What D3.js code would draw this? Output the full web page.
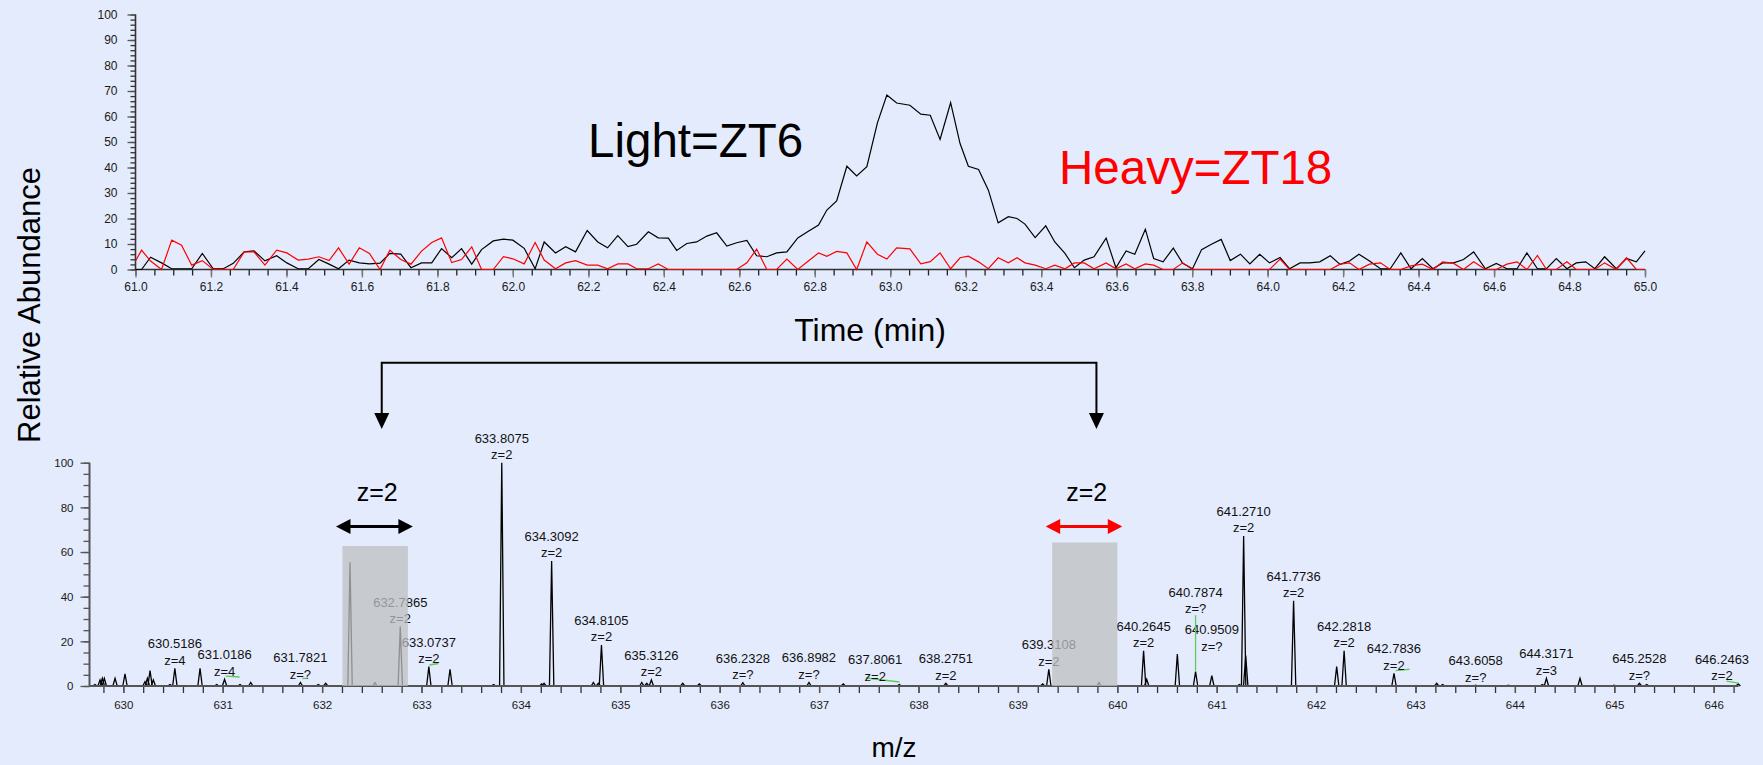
<!DOCTYPE html>
<html>
<head>
<meta charset="utf-8">
<script src="https://cdn.jsdelivr.net/npm/d3@7"></script>
<style>
  body { margin: 0; background: #e4ebfc; }
  svg { display: block; font-family: 'Liberation Sans', Arial, sans-serif; }
</style>
</head>
<body>
<svg id="chart" width="1763" height="765"></svg>
<script>
// chromatogram (XIC) scans
const scanTimes = [
  61.000, 61.016, 61.040, 61.069, 61.096, 61.122, 61.149, 61.177, 61.206, 61.233, 61.259, 61.288, 61.314,
  61.343, 61.374, 61.401, 61.431, 61.458, 61.486, 61.513, 61.538, 61.566, 61.593, 61.620, 61.648, 61.674,
  61.703, 61.730, 61.758, 61.785, 61.811, 61.838, 61.864, 61.891, 61.917, 61.948, 61.975,
  62.000, 62.030, 62.059, 62.083, 62.113, 62.140, 62.166, 62.197, 62.225, 62.251, 62.278, 62.305, 62.328,
  62.359, 62.385, 62.412, 62.434, 62.461, 62.487, 62.514, 62.540, 62.567, 62.593, 62.620, 62.646, 62.673,
  62.699, 62.726, 62.755, 62.783, 62.810, 62.832, 62.858, 62.885, 62.911, 62.938, 62.966,
  62.991, 63.017, 63.052, 63.081, 63.106, 63.132, 63.160, 63.185, 63.207, 63.234, 63.260, 63.286, 63.313,
  63.336, 63.357, 63.384, 63.412, 63.436, 63.463, 63.488, 63.514, 63.540, 63.572, 63.598, 63.625, 63.648,
  63.676, 63.698, 63.723, 63.750, 63.775, 63.801, 63.825, 63.851, 63.877, 63.901, 63.928, 63.953,
  63.979, 64.005, 64.033, 64.058, 64.086, 64.111, 64.138, 64.166, 64.192, 64.217, 64.242, 64.270, 64.299,
  64.325, 64.353, 64.380, 64.410, 64.438, 64.464, 64.493, 64.519, 64.546, 64.577, 64.606, 64.634, 64.661,
  64.687, 64.715, 64.739, 64.765, 64.793, 64.818, 64.843, 64.867, 64.893, 64.924, 64.951, 64.977, 65.000,
];
const lightAbund = [
  0, 0, 4.8, 2.6, 0.3, 0.3, 0.3, 6.3, 0.3, 0.3, 2.4, 6.9, 7.3, 3.4, 5.4, 2.6, 0.3, 0.3, 3.9, 2.1, 0.3,
  3.7, 2.6, 2.2, 2.5, 6.3, 6.0, 0.7, 2.6, 2.6, 8.2, 4.6, 8.2, 2.1, 7.8, 11.2, 11.9,
  11.5, 8.3, 0.3, 10.8, 6.5, 8.9, 6.9, 15.3, 10.8, 8.5, 13.3, 9.0, 9.9, 14.8, 12.4, 12.3, 7.5, 10.2, 10.8,
  13.1, 14.4, 9.2, 10.5, 11.4, 5.4, 5.0, 6.5, 6.9, 12.4, 15.0, 17.4, 23.3, 26.9, 40.5, 36.7, 40.3, 57.5,
  68.4, 65.3, 64.4, 60.9, 60.5, 51.0, 65.4, 49.4, 40.5, 39.2, 31.1, 18.3, 20.7, 20.0, 17.8, 12.5, 17.1,
  10.8, 6.3, 0.7, 3.7, 5.0, 12.3, 0.7, 7.3, 6.0, 15.8, 4.3, 3.0, 8.4, 2.4, 0.3, 7.8, 9.9, 11.8, 3.5, 6.0, 2.2,
  6.0, 2.6, 4.7, 0.3, 2.6, 2.6, 3.0, 5.4, 2.0, 3.3, 6.0, 3.3, 0.3, 0.3, 6.5, 0.3, 4.3, 0.3, 2.6, 2.6, 3.9,
  6.9, 0.3, 2.4, 0.3, 0.3, 6.5, 0.3, 0.3, 4.3, 0.3, 2.6, 3.0, 0.3, 5.0, 0.3, 4.3, 3.0, 7.3,
];
const heavyAbund = [
  3.3, 7.6, 3.3, 0, 11.5, 9.5, 1.7, 3.5, 0, 0, 0, 6.9, 6.9, 1.7, 7.6, 6.5, 3.7, 4.1, 5.0, 3.5, 8.5,
  2.1, 8.5, 6.3, 0, 7.6, 3.9, 2.1, 7.2, 10.6, 12.4, 2.7, 3.9, 8.9, 0, 0, 5.0,
  4.2, 2.2, 10.6, 3.7, 0.3, 2.6, 3.5, 1.7, 1.7, 0.3, 2.2, 2.2, 0.3, 0.3, 2.2, 0, 0, 0, 0, 0, 0,
  0, 0, 2.6, 8.0, 0, 0, 4.1, 0, 3.3, 6.5, 5.2, 7.1, 6.5, 0, 10.8, 6.0,
  4.1, 8.5, 8.1, 2.2, 3.1, 6.5, 0.3, 4.6, 5.2, 3.0, 0.3, 4.6, 2.6, 4.6, 2.6, 1.7, 0.3, 1.7, 0.3,
  2.6, 2.6, 0.3, 2.6, 0.3, 2.2, 0.3, 2.2, 1.7, 0, 0, 2.6, 0, 0, 0, 0, 0, 0, 0,
  0, 0, 4.1, 0, 0, 0, 0, 0, 2.1, 2.6, 0, 2.1, 2.6, 0, 0, 1.4, 2.1, 0, 3.0, 2.4, 0,
  3.0, 0, 0, 2.1, 3.0, 0, 5.5, 0, 0, 3.0, 0, 0, 0, 2.6, 0, 4.6, 0, 0,
];
const timeTicks = [61.0, 61.2, 61.4, 61.6, 61.8, 62.0, 62.2, 62.4, 62.6, 62.8, 63.0, 63.2, 63.4, 63.6, 63.8, 64.0, 64.2, 64.4, 64.6, 64.8, 65.0];
const abundTicks = [0, 10, 20, 30, 40, 50, 60, 70, 80, 90, 100];

// MS1 spectrum
const specMz = [
  629.715, 629.766, 629.789, 629.809, 629.917, 630.017, 630.218, 630.242, 630.269, 630.302, 630.470,
  630.5186, 630.772, 630.940, 631.0186, 631.174, 631.282, 631.7821, 631.962, 632.036, 632.281, 632.532,
  632.7865, 633.0737, 633.287, 633.725, 633.8075, 634.209, 634.233, 634.3092, 634.729, 634.779, 634.8105,
  635.216, 635.266, 635.3126, 635.628, 635.795, 636.2328, 636.8982, 637.243, 637.8061, 638.2751, 639.249,
  639.3108, 639.816, 640.2645, 640.296, 640.604, 640.7874, 640.9509, 641.228, 641.2710, 641.292, 641.7736,
  642.207, 642.2818, 642.7836, 643.213, 643.273, 643.6058, 643.934, 644.276, 644.3171, 644.655, 644.997,
  645.2528, 645.326, 646.2463,
];
const specInt = [
  0.7, 2.7, 3.4, 3.4, 3.4, 5.4, 1.9, 3.4, 6.9, 2.7, 0.7,
  7.9, 7.9, 0.7, 3.0, 0.7, 1.6, 1.6, 0.7, 1.2, 55.4, 1.5,
  26.6, 8.7, 7.5, 0.7, 100, 0.9, 1.2, 56.0, 1.6, 1.2, 18.4,
  1.6, 1.2, 2.7, 1.2, 0.9, 1.5, 1.6, 0.9, 0.7, 1.2, 0.9,
  7.5, 1.6, 15.8, 3.0, 14.3, 6.4, 4.6, 0.7, 67.2, 13.6, 38.2,
  8.7, 15.8, 5.7, 1.2, 0.7, 0.4, 0.4, 0.7, 3.4, 3.4, 0.4,
  1.2, 0.7, 0.9,
];
const labelMz = [
  '630.5186', '631.0186', '631.7821', '632.7865', '633.0737', '633.8075', '634.3092', '634.8105', '635.3126',
  '636.2328', '636.8982', '637.8061', '638.2751', '639.3108', '640.2645', '640.7874', '640.9509', '641.2710',
  '641.7736', '642.2818', '642.7836', '643.6058', '644.3171', '645.2528', '646.2463',
];
const labelZ = [
  'z=4', 'z=4', 'z=?', 'z=2', 'z=2', 'z=2', 'z=2', 'z=2', 'z=2',
  'z=?', 'z=?', 'z=2', 'z=2', 'z=2', 'z=2', 'z=?', 'z=?', 'z=2',
  'z=2', 'z=2', 'z=2', 'z=?', 'z=3', 'z=?', 'z=2',
];
const mzTicks = [630, 631, 632, 633, 634, 635, 636, 637, 638, 639, 640, 641, 642, 643, 644, 645, 646];
const specTicks = [0, 20, 40, 60, 80, 100];
// isolation windows: [mz from, mz to, height]
const isoBoxes = [[632.205, 632.863, 62.7], [639.345, 640.0, 64.3]];
// short green isotope-cluster marks: [mz from, mz to, level from, level to]
const isoMarks = [
  [631.03, 631.17, 4.4, 4.0], [631.80, 631.84, 3.4, 3.4], [633.08, 633.17, 9.4, 10.1],
  [637.47, 637.81, 3.6, 1.8], [642.80, 642.94, 6.9, 7.5], [646.13, 646.25, 2.2, 1.3],
];
const arrowMz = [632.60, 639.79];

// labels moved to clear their neighbours (px)
const labelLift = { '640.9509': 21.5, '640.7874': 55 };
const labelShift = { '637.8061': -24 };

const SVG = d3.select('#chart');
const FONT_TICK = '12px';

// ---------- top: XIC ----------
const xT = d3.scaleLinear().domain([61, 65]).range([135.5, 1645]);
const yT = d3.scaleLinear().domain([0, 100]).range([269.5, 14.5]);
const TOP_G = SVG.append('g');

const styleAxis = (g, color) => {
  g.select('.domain').remove();
  g.selectAll('.tick line').attr('stroke', color).attr('stroke-width', 1.3);
  g.selectAll('.tick text').attr('fill', '#1a1a1a').style('font-size', FONT_TICK)
    .style('font-family', "'Liberation Sans', Arial, sans-serif");
};

TOP_G.append('g')
  .attr('transform', `translate(0,${yT(0)})`)
  .call(d3.axisBottom(xT).tickValues(d3.range(61, 65.001, 0.05)).tickSize(6).tickFormat(''))
  .call((g) => styleAxis(g, '#222'));
TOP_G.append('g')
  .attr('transform', `translate(0,${yT(0)})`)
  .call(d3.axisBottom(xT).tickValues(timeTicks).tickSize(8).tickPadding(5).tickFormat(d3.format('.1f')))
  .call((g) => styleAxis(g, '#7a7a7a'));
TOP_G.append('g')
  .attr('transform', `translate(${xT(61)},0)`)
  .call(d3.axisLeft(yT).tickValues(d3.range(0, 101, 2)).tickSize(5).tickFormat(''))
  .call((g) => styleAxis(g, '#333'));
TOP_G.append('g')
  .attr('transform', `translate(${xT(61)},0)`)
  .call(d3.axisLeft(yT).tickValues(abundTicks).tickSize(8).tickPadding(10))
  .call((g) => styleAxis(g, '#555'));
TOP_G.append('line')
  .attr('x1', xT(61)).attr('x2', xT(65)).attr('y1', yT(0)).attr('y2', yT(0))
  .attr('stroke', '#333').attr('stroke-width', 1.6);
TOP_G.append('line')
  .attr('x1', xT(61)).attr('x2', xT(61)).attr('y1', yT(0)).attr('y2', yT(100))
  .attr('stroke', '#333').attr('stroke-width', 1.6);

const xic = (vals) => scanTimes.map((t, i) => ({ t, v: vals[i] }));
const LINE = d3.line().x((d) => xT(d.t)).y((d) => yT(d.v));
TOP_G.append('path').datum(xic(lightAbund)).attr('d', LINE)
  .attr('fill', 'none').attr('stroke', '#000').attr('stroke-width', 1.2);
TOP_G.append('path').datum(xic(heavyAbund)).attr('d', LINE)
  .attr('fill', 'none').attr('stroke', '#ff0000').attr('stroke-width', 1.2);

TOP_G.append('text').text('Light=ZT6')
  .attr('x', 588).attr('y', 157).style('font-size', '47.5px').attr('fill', '#000');
TOP_G.append('text').text('Heavy=ZT18')
  .attr('x', 1059).attr('y', 184).style('font-size', '47.5px').attr('fill', '#ff0000');
TOP_G.append('text').text('Time (min)')
  .attr('x', 870).attr('y', 340.5).attr('text-anchor', 'middle').style('font-size', '32px');

// ---------- bottom: spectrum ----------
const xB = d3.scaleLinear().domain([630, 646]).range([123.3, 1713.7]);
const yB = d3.scaleLinear().domain([0, 100]).range([686, 462.7]);
const BOT_G = SVG.append('g');

BOT_G.append('g')
  .attr('transform', `translate(0,${yB(0)})`)
  .call(d3.axisBottom(xB).tickValues(d3.range(629.8, 646.25, 0.2)).tickSize(7).tickFormat(''))
  .call((g) => styleAxis(g, '#333'));
BOT_G.append('g')
  .attr('transform', `translate(0,${yB(0)})`)
  .call(d3.axisBottom(xB).tickValues(mzTicks).tickSize(7).tickPadding(8).tickFormat(d3.format('d')))
  .call((g) => styleAxis(g, '#555'));
BOT_G.append('g')
  .attr('transform', `translate(${xB(629.66)},0)`)
  .call(d3.axisLeft(yB).tickValues(d3.range(0, 101, 5)).tickSize(6).tickFormat(''))
  .call((g) => styleAxis(g, '#555'));
BOT_G.append('g')
  .attr('transform', `translate(${xB(629.66)},0)`)
  .call(d3.axisLeft(yB).tickValues(specTicks).tickSize(9).tickPadding(7))
  .call((g) => styleAxis(g, '#555'));
BOT_G.selectAll('.tick text').style('font-size', '11.5px');
BOT_G.append('line')
  .attr('x1', xB(629.66)).attr('x2', xB(629.66)).attr('y1', yB(0)).attr('y2', yB(100))
  .attr('stroke', '#555').attr('stroke-width', 2);

const peaks = specMz.map((mz, i) => ({ mz, int: specInt[i] }));
const HW = 0.022;
BOT_G.append('g').selectAll('path')
  .data(peaks)
  .join('path')
  .attr('d', (d) => d3.line()([[xB(d.mz - HW), yB(0)], [xB(d.mz), yB(d.int)], [xB(d.mz + HW), yB(0)]]))
  .attr('fill', 'none').attr('stroke', '#000').attr('stroke-width', 1.3);

BOT_G.append('line')
  .attr('x1', xB(629.66)).attr('x2', xB(646.25)).attr('y1', yB(0)).attr('y2', yB(0))
  .attr('stroke', '#555').attr('stroke-width', 2.2);

BOT_G.append('g').selectAll('line')
  .data(isoMarks)
  .join('line')
  .attr('x1', (d) => xB(d[0])).attr('x2', (d) => xB(d[1]))
  .attr('y1', (d) => yB(d[2])).attr('y2', (d) => yB(d[3]))
  .attr('stroke', '#5ccc5c').attr('stroke-width', 1.4);

const LABEL_G = BOT_G.append('g').style('font-size', '13px').attr('fill', '#111').attr('text-anchor', 'middle');
labelMz.forEach((m, i) => {
  const mz = Number(m);
  const pk = peaks.reduce((a, b) => (Math.abs(b.mz - mz) < Math.abs(a.mz - mz) ? b : a));
  const lift = labelLift[m] || 0;
  const yz = yB(pk.int) - 3.5 - lift;
  const x = Math.min(xB(mz) + (labelShift[m] || 0), 1750 - 28);
  LABEL_G.append('text').text(m).attr('x', x).attr('y', yz - 16.5);
  LABEL_G.append('text').text(labelZ[i]).attr('x', x).attr('y', yz);
  if (lift > 30) {
    BOT_G.append('line')
      .attr('x1', xB(mz)).attr('x2', xB(mz)).attr('y1', yz + 2).attr('y2', yB(pk.int) - 1)
      .attr('stroke', '#5ccc5c').attr('stroke-width', 1.3);
  }
});

// isolation windows overlay
BOT_G.append('g').selectAll('rect')
  .data(isoBoxes)
  .join('rect')
  .attr('x', (d) => xB(d[0]))
  .attr('width', (d) => xB(d[1]) - xB(d[0]))
  .attr('y', (d) => yB(d[2]))
  .attr('height', (d) => yB(0) - yB(d[2]))
  .attr('fill', 'rgb(190,191,192)').attr('fill-opacity', 0.75);

// double arrows + z=2 over windows
const ARROW_Y = 526.5;
isoBoxes.forEach((b, i) => {
  const color = i === 0 ? '#000' : '#ff0000';
  const x1 = xB(b[0]) - 6.5;
  const x2 = xB(b[1]) + 5;
  BOT_G.append('line')
    .attr('x1', x1 + 10).attr('x2', x2 - 10).attr('y1', ARROW_Y).attr('y2', ARROW_Y)
    .attr('stroke', color).attr('stroke-width', 3.2);
  BOT_G.append('path')
    .attr('d', `M${x1},${ARROW_Y}l14.5,-7.5v15z M${x2},${ARROW_Y}l-14.5,-7.5v15z`)
    .attr('fill', color);
  BOT_G.append('text').text('z=2')
    .attr('x', (xB(b[0]) + xB(b[1])) / 2 + 2).attr('y', 501)
    .attr('text-anchor', 'middle').style('font-size', '25px').attr('fill', '#000');
});

// bracket linking the chromatogram peak to the spectrum
const [BX1, BX2] = arrowMz.map((m) => xB(m));
SVG.append('path')
  .attr('d', `M${BX1},414V362.7H${BX2}V414`)
  .attr('fill', 'none').attr('stroke', '#000').attr('stroke-width', 2);
SVG.append('path')
  .attr('d', `M${BX1 - 7.5},413h15l-7.5,16z M${BX2 - 7.5},413h15l-7.5,16z`)
  .attr('fill', '#000');

BOT_G.append('text').text('m/z')
  .attr('x', 894).attr('y', 757).attr('text-anchor', 'middle').style('font-size', '28px');

SVG.append('text').text('Relative Abundance')
  .attr('transform', 'translate(40,305) rotate(-90)')
  .attr('text-anchor', 'middle').style('font-size', '31px');
</script>
</body>
</html>
